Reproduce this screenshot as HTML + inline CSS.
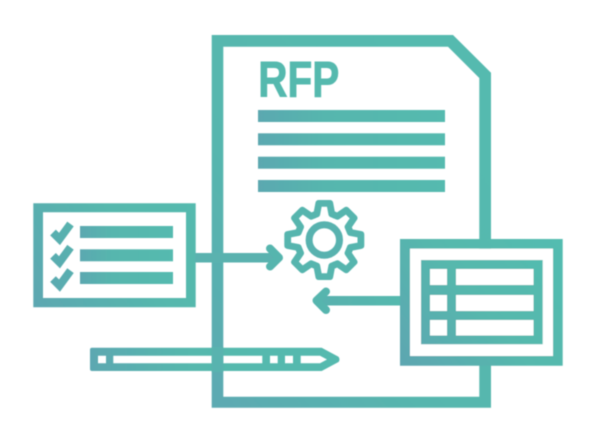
<!DOCTYPE html>
<html>
<head>
<meta charset="utf-8">
<style>
html,body{margin:0;padding:0;background:#fff;width:600px;height:441px;overflow:hidden}
svg{display:block}
text{font-family:"Liberation Sans",sans-serif;font-weight:bold}
</style>
</head>
<body>
<svg width="600" height="441" viewBox="0 0 600 441" xmlns="http://www.w3.org/2000/svg">
<defs>
<filter id="s" x="0" y="0" width="600" height="441" filterUnits="userSpaceOnUse"><feGaussianBlur stdDeviation="0.4"/></filter>
<linearGradient id="g" gradientUnits="userSpaceOnUse" x1="210" y1="410" x2="500" y2="180">
<stop offset="0" stop-color="#5CA9B2"/><stop offset="0.45" stop-color="#57B6AE"/><stop offset="1" stop-color="#55BAAF"/>
</linearGradient>
<linearGradient id="b" x1="0" y1="0.5" x2="1" y2="0.5">
<stop offset="0" stop-color="#5BA8B0"/><stop offset="0.35" stop-color="#57B6AE"/><stop offset="1" stop-color="#54BAAF"/>
</linearGradient>
<linearGradient id="c" gradientUnits="userSpaceOnUse" x1="35" y1="305" x2="195" y2="205">
<stop offset="0" stop-color="#5CA7B1"/><stop offset="0.6" stop-color="#56B8AD"/><stop offset="1" stop-color="#55BAAE"/>
</linearGradient>
<linearGradient id="t" gradientUnits="userSpaceOnUse" x1="400" y1="365" x2="560" y2="240">
<stop offset="0" stop-color="#5DA6B1"/><stop offset="0.5" stop-color="#56B8AD"/><stop offset="1" stop-color="#52BCB0"/>
</linearGradient>
<linearGradient id="p" gradientUnits="userSpaceOnUse" x1="90" y1="360" x2="340" y2="360">
<stop offset="0" stop-color="#5CA8B1"/><stop offset="0.4" stop-color="#56B8AD"/><stop offset="1" stop-color="#54BAAF"/>
</linearGradient>
<linearGradient id="a" gradientUnits="userSpaceOnUse" x1="312" y1="310" x2="400" y2="290">
<stop offset="0" stop-color="#5AB0AF"/><stop offset="1" stop-color="#55B9AE"/>
</linearGradient>
</defs>

<g filter="url(#s)">
<!-- document -->
<path fill="url(#g)" fill-rule="evenodd" d="M211.7 35H453L491 72.7V407.7H211.7ZM223.3 46.7V396.7H479.3V78L448 46.7Z"/>

<text x="258.3" y="96.5" font-size="50" textLength="81" lengthAdjust="spacingAndGlyphs" fill="#55B9AE" stroke="#55B9AE" stroke-width="0.9">RFP</text>

<rect x="258" y="110" width="187" height="12" fill="url(#b)"/>
<rect x="258" y="133.3" width="187" height="12" fill="url(#b)"/>
<rect x="258" y="156.7" width="187" height="12" fill="url(#b)"/>
<rect x="258" y="180" width="187" height="12" fill="url(#b)"/>

<!-- checklist -->
<path fill="url(#c)" fill-rule="evenodd" d="M33.3 203.3H195.7V307.3H33.3ZM43 212.3V298H186V212.3Z"/>
<rect x="80" y="226" width="93" height="12" fill="url(#b)"/>
<rect x="80" y="249.3" width="93" height="12" fill="url(#b)"/>
<rect x="80" y="272" width="93" height="12" fill="url(#b)"/>
<g fill="none" stroke="url(#c)" stroke-width="8">
<polyline points="53,232.5 59.5,239 70.5,224"/>
<polyline points="53,255.8 59.5,262.3 70.5,247.3"/>
<polyline points="53,279.1 59.5,285.6 70.5,270.6"/>
</g>

<!-- right arrow -->
<rect x="195" y="253" width="84" height="9.5" fill="#5AB2AF"/>
<polyline points="270,248.5 279,257.7 270,266.5" fill="none" stroke="#57B5AE" stroke-width="8" stroke-linecap="round" stroke-linejoin="round"/>

<!-- gear -->
<g transform="translate(324.3 240)" fill="none" stroke-width="6.8" stroke-linejoin="round" stroke-linecap="round">
<circle r="15.2" stroke-width="7" stroke="#58B2AF"/>
<g stroke="#57B5AE">
<polyline transform="rotate(0)" points="-10.3,-24.9 -7.5,-26 -5.5,-36.6 5.5,-36.6 7.5,-26 10.3,-24.9"/>
<polyline transform="rotate(45)" points="-10.3,-24.9 -7.5,-26 -5.5,-36.6 5.5,-36.6 7.5,-26 10.3,-24.9"/>
<polyline transform="rotate(90)" points="-10.3,-24.9 -7.5,-26 -5.5,-36.6 5.5,-36.6 7.5,-26 10.3,-24.9"/>
<polyline transform="rotate(135)" points="-10.3,-24.9 -7.5,-26 -5.5,-36.6 5.5,-36.6 7.5,-26 10.3,-24.9"/>
<polyline transform="rotate(180)" points="-10.3,-24.9 -7.5,-26 -5.5,-36.6 5.5,-36.6 7.5,-26 10.3,-24.9"/>
<polyline transform="rotate(225)" points="-10.3,-24.9 -7.5,-26 -5.5,-36.6 5.5,-36.6 7.5,-26 10.3,-24.9"/>
<polyline transform="rotate(270)" points="-10.3,-24.9 -7.5,-26 -5.5,-36.6 5.5,-36.6 7.5,-26 10.3,-24.9"/>
<polyline transform="rotate(315)" points="-10.3,-24.9 -7.5,-26 -5.5,-36.6 5.5,-36.6 7.5,-26 10.3,-24.9"/>
</g>
</g>

<!-- left arrow -->
<rect x="318" y="296" width="84" height="9.5" fill="url(#a)"/>
<polyline points="326,291.5 316.5,300.5 326,310" fill="none" stroke="#57B5AE" stroke-width="8" stroke-linecap="round" stroke-linejoin="round"/>

<!-- table card -->
<path fill="url(#t)" fill-rule="evenodd" d="M400 239H562.7V365.7H400ZM410 248.7V356H553V248.7Z"/>
<rect x="410" y="248.7" width="143" height="107.3" fill="#fff"/>
<path fill="url(#t)" fill-rule="evenodd" d="M421 260H542.7V344.3H421ZM430 269V285H447V269ZM456 269V285H533.5V269ZM430 295V311H447V295ZM456 295V311H533.5V295ZM430 320V335.5H447V320ZM456 320V335.5H533.5V320Z"/>

<!-- pencil -->
<path fill="url(#p)" fill-rule="evenodd" d="M92 347.7H321.7L338.5 356.8Q340.5 359.5 338.5 362L321.7 371H92Q90 371 90 369V349.7Q90 347.7 92 347.7ZM98 355.7V363.3H106V355.7ZM113.3 355.7V363.3H262.3V355.7ZM270 355.7V363.3H277.7V355.7ZM285 355.7V363.3H293V355.7ZM300.7 355.7V363.3H320L327 359.5L320 355.7Z"/>
<!-- document edge crossing pencil -->
<rect x="211.7" y="347" width="11.6" height="25" fill="#58B3AF"/>
</g>
</svg>
</body>
</html>
